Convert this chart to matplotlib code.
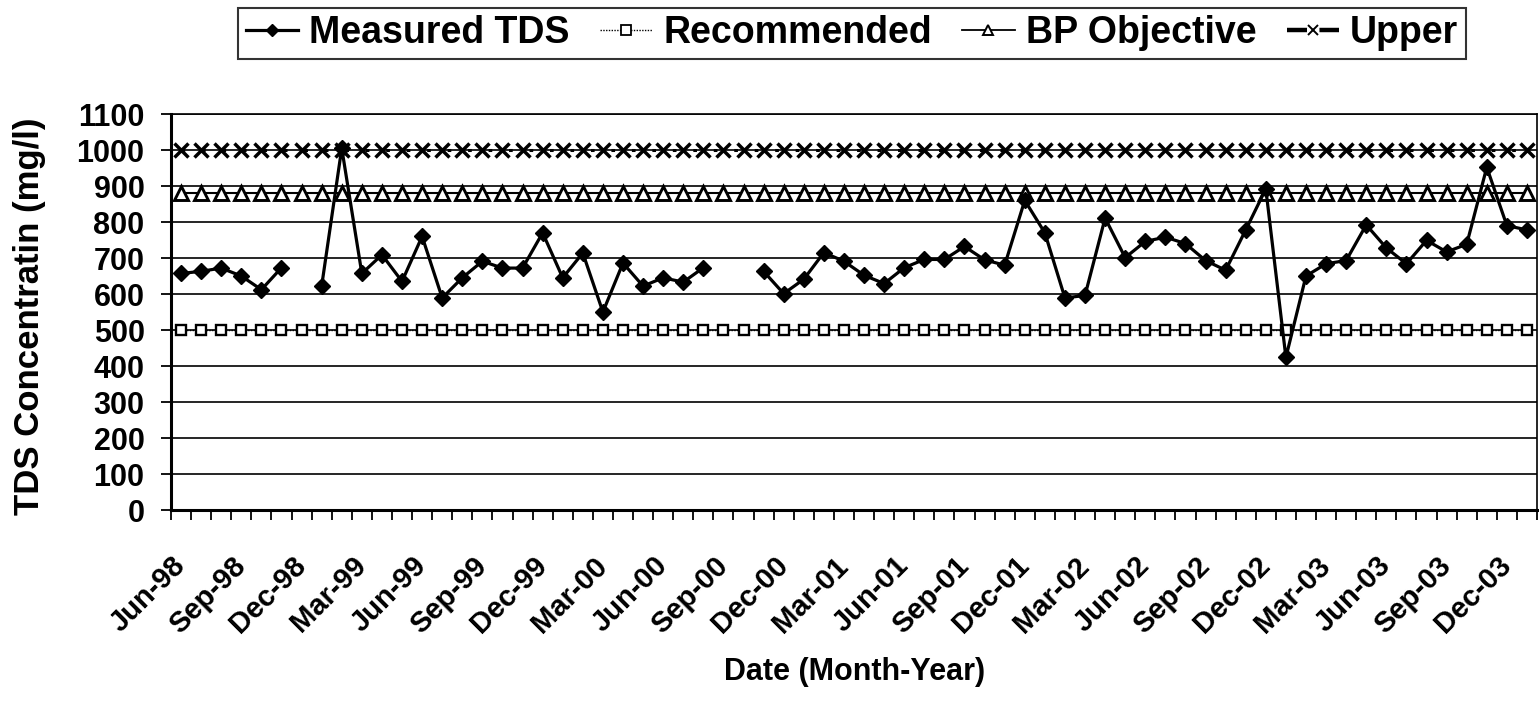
import matplotlib
matplotlib.use("Agg")
import matplotlib.pyplot as plt
import numpy as np
from matplotlib.ticker import FixedLocator, NullFormatter
from matplotlib.lines import Line2D
import matplotlib.transforms as mtransforms

plt.rcParams['font.family'] = ['Liberation Sans', 'DejaVu Sans']
plt.rcParams['font.weight'] = 'bold'

# Monthly categories Jun-98 .. Jan-04
months = ["Jun-98","Jul-98","Aug-98","Sep-98","Oct-98","Nov-98","Dec-98",
          "Jan-99","Feb-99","Mar-99","Apr-99","May-99","Jun-99","Jul-99","Aug-99",
          "Sep-99","Oct-99","Nov-99","Dec-99","Jan-00","Feb-00","Mar-00","Apr-00",
          "May-00","Jun-00","Jul-00","Aug-00","Sep-00","Oct-00","Nov-00","Dec-00",
          "Jan-01","Feb-01","Mar-01","Apr-01","May-01","Jun-01","Jul-01","Aug-01",
          "Sep-01","Oct-01","Nov-01","Dec-01","Jan-02","Feb-02","Mar-02","Apr-02",
          "May-02","Jun-02","Jul-02","Aug-02","Sep-02","Oct-02","Nov-02","Dec-02",
          "Jan-03","Feb-03","Mar-03","Apr-03","May-03","Jun-03","Jul-03","Aug-03",
          "Sep-03","Oct-03","Nov-03","Dec-03","Jan-04"]

nan = np.nan
measured_tds = [657, 663, 672, 650, 612, 673, nan,
                622, 1005, 657, 709, 635, 760, 589, 645,
                691, 672, 672, 770, 645, 714, 550, 686,
                622, 645, 633, 673, nan, nan, 663, 601,
                641, 715, 691, 652, 629, 673, 696, 696,
                732, 695, 680, 860, 770, 589, 596, 811,
                701, 746, 758, 740, 693, 666, 778, 892,
                424, 650, 684, 693, 792, 728, 684, 749,
                717, 738, 952, 790, 778]
recommended = [500] * len(months)
bp_objective = [880] * len(months)
upper = [1000] * len(months)

yticks = list(range(0, 1101, 100))
label_every = 3

W, H = 1539, 707
fig = plt.figure(figsize=(W / 100, H / 100), dpi=100)
ax = fig.add_axes([171 / W, 1 - 510 / H, (1537 - 171) / W, (510 - 114) / H])

x = np.arange(len(months))

ax.plot(x, upper, color='black', lw=2.2, ls=(0, (1.2, 5.5)), marker='x',
        ms=10, mew=2.5, zorder=3)
ax.plot(x, bp_objective, color='black', lw=1.5, marker='^', ms=10,
        mfc='white', mec='black', mew=2.1, zorder=3)
ax.plot(x, recommended, color='black', lw=1.0, ls=(0, (1, 1)), marker='s', ms=7.5,
        mfc='white', mec='black', mew=1.7, zorder=3)
ax.plot(x, measured_tds, color='black', lw=2.3, marker='D', ms=7.8,
        mfc='black', mec='black', zorder=4)

ax.set_xlim(-0.5, len(months) - 0.5)
ax.set_ylim(0, 1100)
ax.set_yticks(yticks)
ax.yaxis.grid(True, color='black', lw=1.2)
ax.set_axisbelow(True)

ax.xaxis.set_major_locator(FixedLocator(x[::label_every]))
ax.set_xticklabels(months[::label_every], rotation=45, ha='right', va='center',
                   rotation_mode='anchor', fontsize=21, fontweight='bold')
shift = mtransforms.ScaledTranslation(-16 / 100, 0, fig.dpi_scale_trans)
for lab in ax.get_xticklabels():
    lab.set_transform(lab.get_transform() + shift)
ax.xaxis.set_minor_locator(FixedLocator(np.arange(-0.5, len(months), 1)))
ax.xaxis.set_minor_formatter(NullFormatter())
ax.tick_params(axis='x', which='major', length=0, pad=37)
ax.tick_params(axis='x', which='minor', length=7, width=1.3, direction='out', color='black')
ax.tick_params(axis='y', which='major', length=7, width=1.3, direction='out', labelsize=22, pad=12)
for lab in ax.get_yticklabels():
    lab.set_fontweight('bold')

for s in ['left', 'bottom']:
    ax.spines[s].set_linewidth(2.2)
for s in ['top', 'right']:
    ax.spines[s].set_linewidth(1.2)

fig.text(30 / W, 1 - 316 / H, 'TDS Concentratin (mg/l)', rotation=90,
         ha='center', va='center', fontsize=25, fontweight='bold')
fig.text(855 / W, 1 - 672 / H, 'Date (Month-Year)', ha='center', va='center',
         fontsize=22, fontweight='bold')

h_meas = Line2D([], [], color='black', lw=2.3, marker='D', ms=6.5)
h_rec = Line2D([], [], color='black', lw=1.0, ls=(0, (1, 1)), marker='s', ms=6.5,
               mfc='white', mec='black', mew=1.3)
h_bp = Line2D([], [], color='black', lw=1.3, marker='^', ms=7, mfc='white',
              mec='black', mew=1.4)
h_up = Line2D([], [], color='black', lw=3.2, ls=(0, (4.5, 2.8)), marker='x',
              ms=7, mew=1.4)
leg = fig.legend([h_meas, h_rec, h_bp, h_up],
                 ['Measured TDS', 'Recommended', 'BP Objective', 'Upper'],
                 loc='center', bbox_to_anchor=((238 + 1466) / 2 / W, 1 - 33 / H),
                 ncol=4, frameon=True, fancybox=False, edgecolor='black',
                 prop={'size': 27, 'weight': 'bold'}, handlelength=1.4,
                 handletextpad=0.3, columnspacing=0.8, borderpad=0.2,
                 borderaxespad=0)
leg.get_frame().set_linewidth(1.5)

fig.savefig('out.png', dpi=100)
